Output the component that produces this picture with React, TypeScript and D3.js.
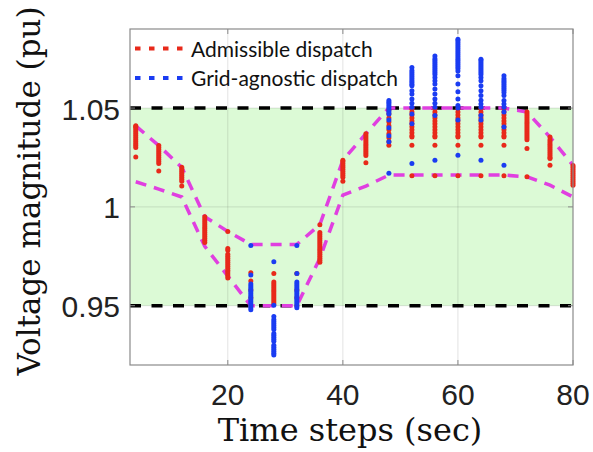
import * as d3 from "d3";

// time steps (sec)
const steps = [4, 8, 12, 16, 20, 24, 28, 32, 36, 40, 44, 48, 52, 56, 60, 64, 68, 72, 76, 80];

// admissible dispatch voltages, one list per time step
const admissible: number[][] = [
  [1.041, 1.0405, 1.04, 1.039, 1.038, 1.037, 1.036, 1.035, 1.034, 1.033, 1.032, 1.031, 1.03, 1.0253],
  [1.031, 1.03, 1.029, 1.028, 1.027, 1.026, 1.025, 1.024, 1.023, 1.022, 1.0182],
  [1.02, 1.019, 1.018, 1.017, 1.016, 1.015, 1.014, 1.013, 1.0106],
  [0.995, 0.994, 0.993, 0.992, 0.991, 0.99, 0.989, 0.988, 0.987, 0.986, 0.985, 0.984, 0.983, 0.982],
  [0.9876, 0.979, 0.978, 0.976, 0.975, 0.974, 0.973, 0.972, 0.971, 0.97, 0.969, 0.968, 0.967, 0.966, 0.965, 0.964],
  [0.9667, 0.9625, 0.958, 0.954, 0.95],
  [0.9663, 0.962, 0.961, 0.96, 0.959, 0.958, 0.957, 0.956, 0.955, 0.954, 0.953, 0.952, 0.951],
  [0.9663, 0.958, 0.954, 0.95],
  [0.991, 0.987, 0.986, 0.985, 0.984, 0.983, 0.982, 0.981, 0.98, 0.979, 0.978, 0.977, 0.976, 0.975, 0.974, 0.973, 0.972],
  [1.0236, 1.023, 1.022, 1.021, 1.02, 1.019, 1.018, 1.017, 1.016, 1.015, 1.013],
  [1.037, 1.036, 1.035, 1.034, 1.033, 1.032, 1.031, 1.03, 1.029, 1.028, 1.027, 1.026, 1.0223],
  [1.049, 1.047, 1.045, 1.043, 1.041, 1.039, 1.037, 1.035, 1.033, 1.0312],
  [1.0496, 1.048, 1.0465, 1.045, 1.0435, 1.042, 1.0405, 1.039, 1.0375, 1.036, 1.0353, 1.0312, 1.0157],
  [1.0496, 1.048, 1.0465, 1.045, 1.0435, 1.042, 1.0405, 1.039, 1.0375, 1.036, 1.0353, 1.0312, 1.0157],
  [1.0496, 1.048, 1.0465, 1.045, 1.0435, 1.042, 1.0405, 1.039, 1.0375, 1.036, 1.0353, 1.0312, 1.0157],
  [1.0496, 1.048, 1.0465, 1.045, 1.0435, 1.042, 1.0405, 1.039, 1.0375, 1.036, 1.0353, 1.0312, 1.0157],
  [1.0496, 1.048, 1.0465, 1.045, 1.0435, 1.042, 1.0405, 1.039, 1.0375, 1.036, 1.0353, 1.0312, 1.0157],
  [1.048, 1.047, 1.046, 1.045, 1.044, 1.043, 1.042, 1.041, 1.04, 1.039, 1.038, 1.037, 1.036, 1.035, 1.034, 1.0295, 1.0152],
  [1.0353, 1.034, 1.033, 1.032, 1.031, 1.03, 1.029, 1.028, 1.027, 1.026, 1.025, 1.0245, 1.0211],
  [1.021, 1.02, 1.019, 1.018, 1.017, 1.016, 1.015, 1.014, 1.013, 1.012, 1.011],
];

// grid-agnostic dispatch voltages
const agnostic: number[][] = [
  [], [], [], [], [],
  [0.9804, 0.9655, 0.961, 0.96, 0.959, 0.958, 0.957, 0.956, 0.955, 0.954, 0.953, 0.952, 0.951, 0.95, 0.949, 0.948],
  [0.9722, 0.9502, 0.9445, 0.943, 0.942, 0.941, 0.94, 0.939, 0.938, 0.936, 0.935, 0.934, 0.933, 0.932, 0.93, 0.929, 0.928, 0.927, 0.926, 0.925],
  [0.9804, 0.9663, 0.962, 0.961, 0.96, 0.959, 0.958, 0.957, 0.956, 0.955, 0.954, 0.953, 0.952, 0.951, 0.95, 0.949],
  [], [], [],
  [1.0538, 1.053, 1.052, 1.051, 1.05, 1.049, 1.048, 1.047, 1.044, 1.04, 1.036, 1.033, 1.017],
  [1.0705, 1.069, 1.068, 1.067, 1.066, 1.065, 1.064, 1.063, 1.062, 1.0613, 1.0588, 1.0571, 1.0546, 1.0524, 1.0504, 1.047, 1.042, 1.022],
  [1.0764, 1.075, 1.074, 1.073, 1.072, 1.071, 1.07, 1.069, 1.068, 1.067, 1.0655, 1.0638, 1.0622, 1.0596, 1.0571, 1.0546, 1.0524, 1.0504, 1.0462, 1.0236],
  [1.0848, 1.084, 1.083, 1.082, 1.081, 1.08, 1.079, 1.078, 1.077, 1.076, 1.075, 1.074, 1.073, 1.072, 1.071, 1.07, 1.0688, 1.0663, 1.0622, 1.0583, 1.0546, 1.0513, 1.05, 1.044, 1.0261],
  [1.0747, 1.074, 1.073, 1.072, 1.071, 1.07, 1.069, 1.068, 1.067, 1.0655, 1.0638, 1.0613, 1.0588, 1.0563, 1.054, 1.052, 1.0504, 1.0462, 1.044, 1.0236],
  [1.0663, 1.065, 1.064, 1.063, 1.062, 1.061, 1.06, 1.059, 1.0579, 1.0563, 1.0538, 1.052, 1.0504, 1.048, 1.0404, 1.0211],
  [], [], [],
];

// magenta envelope lines
const upperBound = [1.041, 1.031, 1.02, 0.995, 0.9876, 0.981, 0.981, 0.981, 0.991, 1.0236, 1.037, 1.05, 1.05, 1.05, 1.05, 1.05, 1.05, 1.048, 1.0353, 1.021];
const lowerBound = [1.0127, 1.009, 1.005, 0.98, 0.965, 0.95, 0.95, 0.95, 0.974, 1.006, 1.0105, 1.0161, 1.0161, 1.0161, 1.0161, 1.0161, 1.0161, 1.0152, 1.011, 1.005];

const vMin = 0.95;
const vMax = 1.05;

const xTicks = [20, 40, 60, 80];
const yTicks = [0.95, 1, 1.05];
const yTickLabels = ["0.95", "1", "1.05"];

const legendItems = [
  { label: "Admissible dispatch", color: "#e8291a" },
  { label: "Grid-agnostic dispatch", color: "#1a3cf2" },
];

const W = 593;
const H = 452;
const plot = { left: 130, right: 573, top: 29, bottom: 365 };

export default function App() {
  const x = d3.scaleLinear().domain([3, 80]).range([plot.left, plot.right]);
  const y = d3.scaleLinear().domain([0.92, 1.09]).range([plot.bottom, plot.top]);

  const line = d3
    .line<number>()
    .x((_, i) => x(steps[i]))
    .y((d) => y(d));

  const red = legendItems[0].color;
  const blue = legendItems[1].color;
  const magenta = "#e03fe0";
  const tickFont = "'Liberation Sans', Arial, sans-serif";
  const labelFont = "'DejaVu Serif', serif";

  return (
    <svg width={W} height={H} style={{ position: "absolute", left: 0, top: 0, background: "#fff" }}>
      {/* admissible band */}
      <rect
        x={plot.left}
        y={y(vMax)}
        width={plot.right - plot.left}
        height={y(vMin) - y(vMax)}
        fill="#dcfad6"
      />

      {/* grid */}
      {xTicks.slice(0, 3).map((t) => (
        <line key={"gx" + t} x1={x(t)} x2={x(t)} y1={plot.top} y2={plot.bottom} stroke="#262626" strokeOpacity={0.13} />
      ))}
      {yTicks.map((t) => (
        <line key={"gy" + t} x1={plot.left} x2={plot.right} y1={y(t)} y2={y(t)} stroke="#262626" strokeOpacity={0.13} />
      ))}

      {/* voltage limits */}
      {[vMin, vMax].map((v) => (
        <line
          key={"lim" + v}
          x1={plot.left}
          x2={plot.right}
          y1={y(v)}
          y2={y(v)}
          stroke="#000"
          strokeWidth={3.5}
          strokeDasharray="11,10.5"
        />
      ))}

      {/* envelopes */}
      {[upperBound, lowerBound].map((b, k) => (
        <path key={"env" + k} d={line(b) || ""} fill="none" stroke={magenta} strokeWidth={3.5} strokeDasharray="11,8" />
      ))}

      {/* dots */}
      {admissible.map((vals, i) =>
        vals.map((v, j) => <circle key={`a${i}-${j}`} cx={x(steps[i])} cy={y(v)} r={2.5} fill={red} />)
      )}
      {agnostic.map((vals, i) =>
        vals.map((v, j) => <circle key={`g${i}-${j}`} cx={x(steps[i])} cy={y(v)} r={2.5} fill={blue} />)
      )}

      {/* axes box */}
      <rect
        x={plot.left}
        y={plot.top}
        width={plot.right - plot.left}
        height={plot.bottom - plot.top}
        fill="none"
        stroke="#8a8a8a"
        strokeWidth={1.2}
      />
      {xTicks.map((t) => (
        <g key={"xt" + t}>
          <line x1={x(t)} x2={x(t)} y1={plot.bottom} y2={plot.bottom - 5} stroke="#8a8a8a" />
          <line x1={x(t)} x2={x(t)} y1={plot.top} y2={plot.top + 5} stroke="#8a8a8a" />
          <text x={x(t)} y={405} textAnchor="middle" fontFamily={tickFont} fontSize={30} fill="#222">
            {t}
          </text>
        </g>
      ))}
      {yTicks.map((t, i) => (
        <g key={"yt" + t}>
          <line x1={plot.left} x2={plot.left + 5} y1={y(t)} y2={y(t)} stroke="#8a8a8a" />
          <line x1={plot.right} x2={plot.right - 5} y1={y(t)} y2={y(t)} stroke="#8a8a8a" />
          <text x={120} y={y(t) + 11.5} textAnchor="end" fontFamily={tickFont} fontSize={30} fill="#222">
            {yTickLabels[i]}
          </text>
        </g>
      ))}

      {/* axis labels */}
      <text x={350} y={441} textAnchor="middle" fontFamily={labelFont} fontSize={32} fill="#111">
        Time steps (sec)
      </text>
      <text
        transform={`translate(40,${191}) rotate(-90)`}
        textAnchor="middle"
        fontFamily={labelFont}
        fontSize={31}
        fill="#111"
      >
        Voltage magnitude (pu)
      </text>

      {/* legend */}
      {legendItems.map((it, i) => (
        <g key={it.label} transform={`translate(0,${i * 29.5})`}>
          <line x1={135} x2={184} y1={48.5} y2={48.5} stroke={it.color} strokeWidth={4} strokeDasharray="5.5,8.5" />
          <text x={191} y={56.5} fontFamily="Lato, sans-serif" fontSize={21} fill="#111">
            {it.label}
          </text>
        </g>
      ))}
    </svg>
  );
}
